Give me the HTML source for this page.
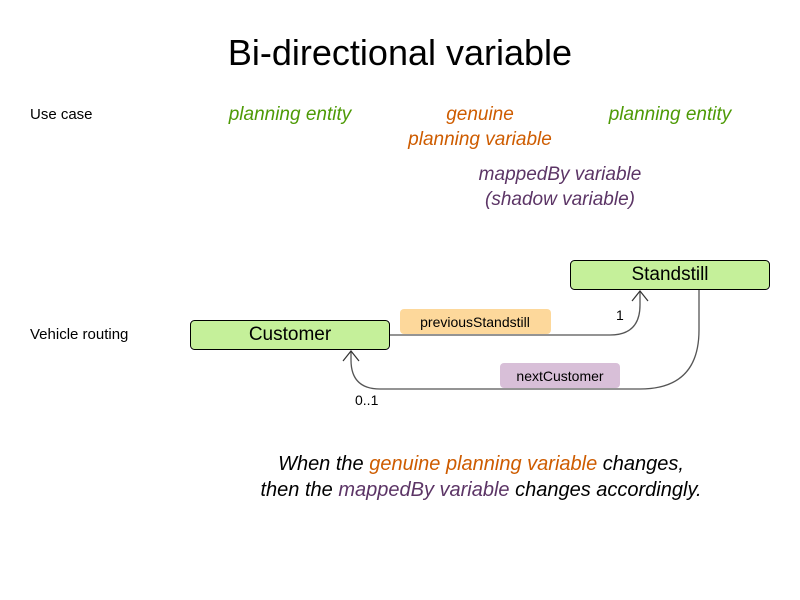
<!DOCTYPE html>
<html><head><meta charset="utf-8"><style>
html,body{margin:0;padding:0;background:#fff;}
svg{display:block;font-family:"Liberation Sans",sans-serif;}
</style></head><body>
<svg width="800" height="600" viewBox="0 0 800 600" xmlns="http://www.w3.org/2000/svg">
<text x="400" y="65" font-size="36" text-anchor="middle" fill="#000">Bi-directional variable</text>
<text x="30" y="119" font-size="15" fill="#000">Use case</text>
<text x="30" y="339" font-size="15" fill="#000">Vehicle routing</text>
<g font-size="19" font-style="italic" text-anchor="middle">
<text x="290" y="120" fill="#4e9a06">planning entity</text>
<text x="670" y="120" fill="#4e9a06">planning entity</text>
<text x="480" y="120" fill="#ce5c00">genuine</text>
<text x="480" y="145" fill="#ce5c00">planning variable</text>
<text x="560" y="180" fill="#5c3566">mappedBy variable</text>
<text x="560" y="205" fill="#5c3566">(shadow variable)</text>
</g>
<g font-size="20" font-style="italic" text-anchor="middle">
<text x="481" y="470" fill="#000"><tspan>When the </tspan><tspan fill="#ce5c00">genuine planning variable</tspan><tspan> changes,</tspan></text>
<text x="481" y="496" fill="#000"><tspan>then the </tspan><tspan fill="#5c3566">mappedBy variable</tspan><tspan> changes accordingly.</tspan></text>
</g>
<rect x="190.5" y="320.5" width="199" height="29" rx="4" fill="#c5f09a" stroke="#000"/>
<text x="290" y="340" font-size="19" text-anchor="middle">Customer</text>
<rect x="570.5" y="260.5" width="199" height="29" rx="4" fill="#c5f09a" stroke="#000"/>
<text x="670" y="280" font-size="19" text-anchor="middle">Standstill</text>
<path d="M390 335 L610 335 Q640 335 640 305 L640 291" fill="none" stroke="#555" stroke-width="1.3"/>
<path d="M632 301 L640 291 L648 301" fill="none" stroke="#333" stroke-width="1.2"/>
<path d="M699 290 L699 330 Q699 389 640 389 L380 389 Q351 389 351 360 L351 351" fill="none" stroke="#555" stroke-width="1.3"/>
<path d="M343 361 L351 351 L359 361" fill="none" stroke="#333" stroke-width="1.2"/>
<rect x="400" y="309" width="151" height="25" rx="4" fill="#fdd89b"/>
<text x="475" y="327" font-size="14" text-anchor="middle">previousStandstill</text>
<rect x="500" y="363" width="120" height="25" rx="4" fill="#d8bfd8"/>
<text x="560" y="381" font-size="14" text-anchor="middle">nextCustomer</text>
<text x="616" y="320" font-size="14">1</text>
<text x="355" y="405" font-size="14">0..1</text>
</svg>
</body></html>
